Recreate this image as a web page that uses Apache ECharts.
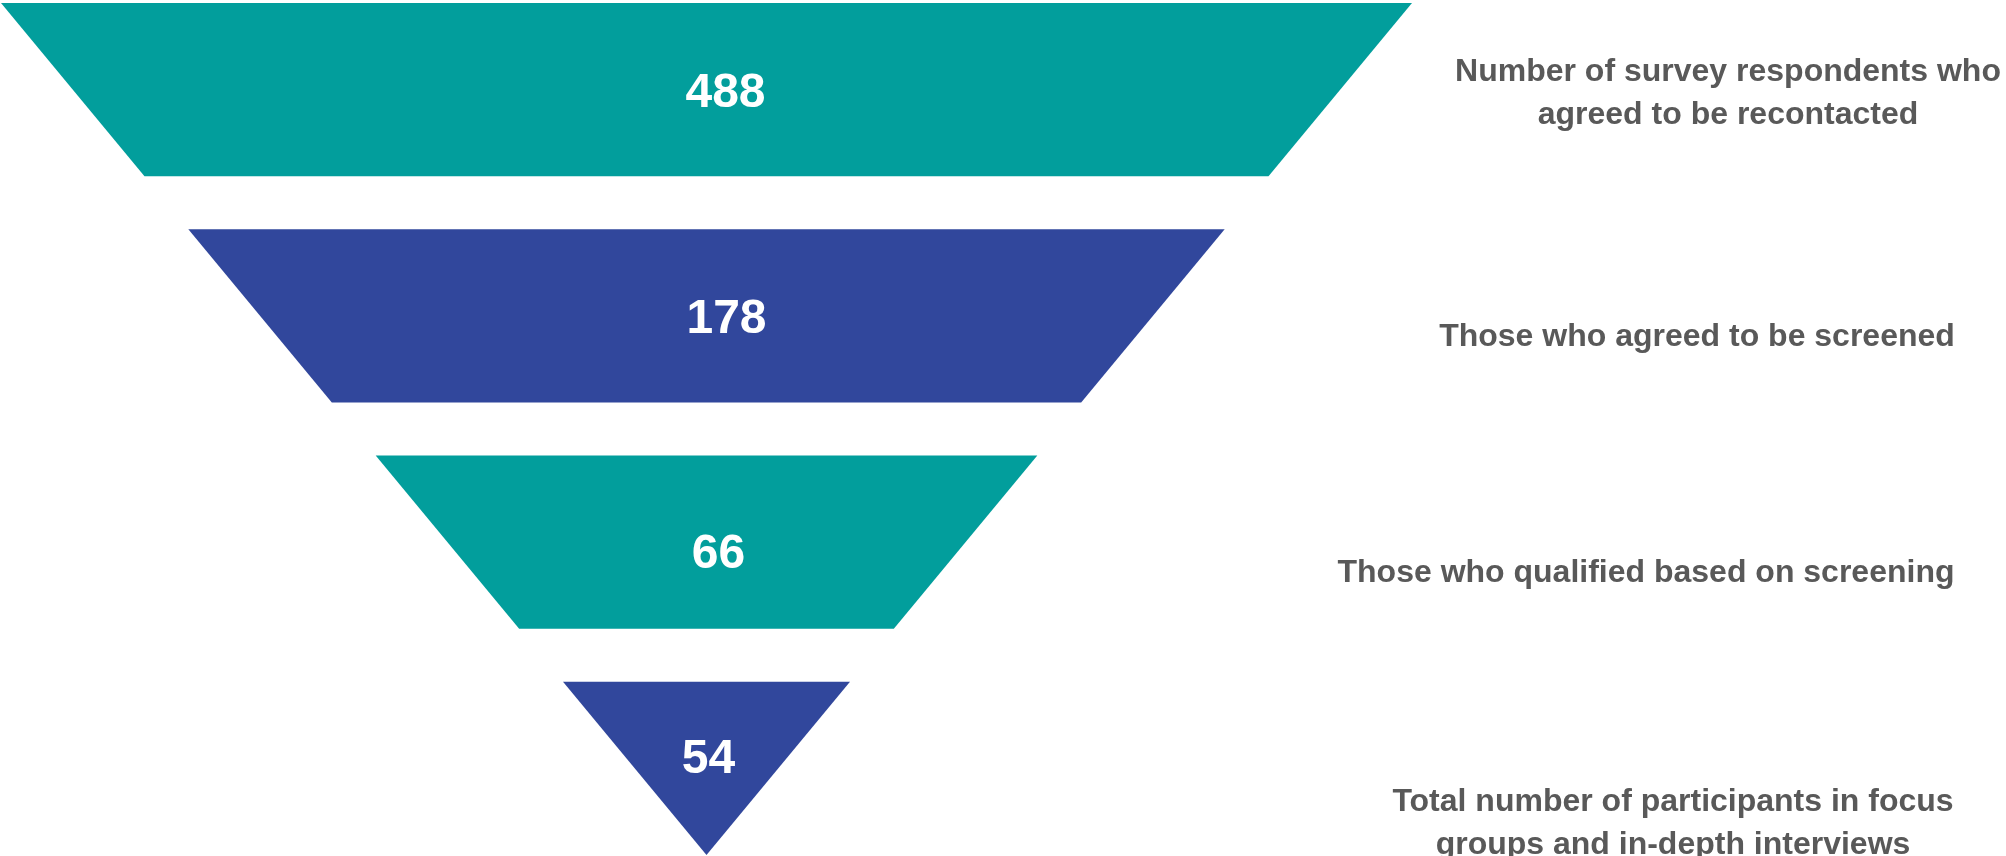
<!DOCTYPE html>
<html><head><meta charset="utf-8">
<script src="https://cdn.jsdelivr.net/npm/echarts@6/dist/echarts.min.js"></script>
<style>html,body{margin:0;padding:0;background:#fff}#c{width:2006px;height:856px}</style>
</head><body><div id="c"></div>
<script>
// ---- data ----
const categories = [
  'Number of survey respondents who\nagreed to be recontacted',
  'Those who agreed to be screened',
  'Those who qualified based on screening',
  'Total number of participants in focus\ngroups and in-depth interviews'
];
const values = [488, 178, 66, 54];

// ---- style ----
const colors = ['#029e9c', '#31479c', '#029e9c', '#31479c'];
const gapRatio = 0.3055;               // gap height relative to segment height
const numShift = [[19, 4], [20, 4], [12, 13], [2, -9]];
const labelX = [1728, 1697, 1646, 1673];
const labelDy = [4, 21, 31, 55];

const n = values.length;
const T = n + (n - 1) * gapRatio;

const chart = echarts.init(document.getElementById('c'), null, {renderer: 'canvas'});
chart.setOption({
  animation: false,
  backgroundColor: '#ffffff',
  grid: {left: 1, right: 594, top: 3, bottom: 1},
  xAxis: {type: 'value', min: -1, max: 1, show: false},
  yAxis: {type: 'value', min: 0, max: T, show: false},
  series: [{
    type: 'custom',
    data: values.map((v, i) => [i, v]),
    renderItem: function (params, api) {
      const i = params.dataIndex;
      const top = T - i * (1 + gapRatio);
      const bot = top - 1;
      const pts = [[-top / T, top], [top / T, top], [bot / T, bot], [-bot / T, bot]].map(p => api.coord(p));
      const c = api.coord([0, (top + bot) / 2]);
      return {
        type: 'group',
        children: [
          {type: 'polygon', shape: {points: pts}, style: {fill: colors[i]}},
          {type: 'text', x: c[0] + numShift[i][0], y: c[1] + numShift[i][1],
            style: {text: String(api.value(1)), fill: '#ffffff', fontSize: 48, fontWeight: 'bold',
              fontFamily: '"Liberation Sans", Arial, sans-serif', align: 'center', verticalAlign: 'middle'}},
          {type: 'text', x: labelX[i], y: c[1] + labelDy[i],
            style: {text: categories[i], fill: '#595959', fontSize: 32, fontWeight: 'bold', lineHeight: 43,
              fontFamily: '"Liberation Sans", Arial, sans-serif', align: 'center', verticalAlign: 'middle'}}
        ]
      };
    }
  }]
});
</script>
</body></html>
